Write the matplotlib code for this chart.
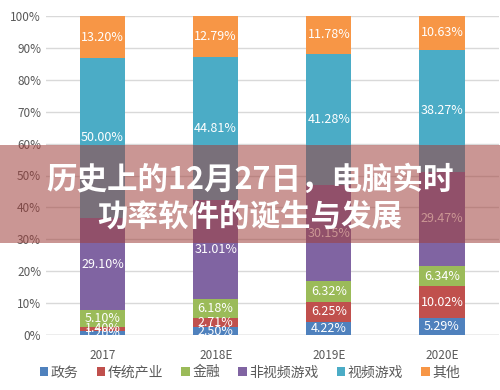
# Stacked share chart of market segments by year, with a title banner on top

import matplotlib.pyplot as plt
from matplotlib.patches import Rectangle

plt.rcParams['font.family'] = ['Noto Sans CJK SC', 'DejaVu Sans']

years = ['2017', '2018E', '2019E', '2020E']
segments = ['政务', '传统产业', '金融', '非视频游戏', '视频游戏', '其他']
colors = ['#4f81bd', '#c0504d', '#9bbb59', '#8064a2', '#4bacc6', '#f79646']

gov = [1.20, 2.50, 4.22, 5.29]
industry = [1.40, 2.71, 6.25, 10.02]
finance = [5.10, 6.18, 6.32, 6.34]
non_video = [29.10, 31.01, 30.15, 29.47]
video = [50.00, 44.81, 41.28, 38.27]
other = [13.20, 12.79, 11.78, 10.63]
series = [gov, industry, finance, non_video, video, other]

fig = plt.figure(figsize=(5, 3.9), dpi=100)
ax = fig.add_axes([0.092, 0.141, 0.905, 0.818])

x = range(len(years))
bottom = [0.0] * len(years)
for name, vals, c in zip(segments, series, colors):
    ax.bar(x, vals, width=0.4, bottom=bottom, color=c, label=name, zorder=2)
    for i, v in enumerate(vals):
        ax.text(i, bottom[i] + v / 2, f'{v:.2f}%', ha='center', va='center',
                color='white', fontsize=9, zorder=3)
    bottom = [b + v for b, v in zip(bottom, vals)]

ax.set_xlim(-0.5, 3.5)
ax.set_ylim(0, 100)
ax.set_yticks(range(0, 101, 10))
ax.set_yticklabels([f'{t}%' for t in range(0, 101, 10)])
ax.set_xticks(list(x))
ax.set_xticklabels(years)
ax.tick_params(colors='#595959', labelsize=8.5, length=0)
ax.tick_params(axis='x', pad=10)
ax.grid(axis='y', color='#d9d9d9', linewidth=1, zorder=0)
for s in ax.spines.values():
    s.set_visible(False)
ax.axhline(0, color='#bfbfbf', linewidth=1, zorder=1)

fig.legend(loc='lower center', bbox_to_anchor=(0.5, -0.005), ncol=6, frameon=False,
           fontsize=10, handlelength=0.6, handleheight=0.6, handletextpad=0.2,
           columnspacing=1.3, labelcolor='#595959')

# translucent title banner
fig.patches.append(Rectangle((0, 1 - 243 / 390), 1, 98 / 390, transform=fig.transFigure,
                             facecolor='#a0403c', alpha=0.55, edgecolor='none', zorder=5))
fig.text(0.5, 1 - 180 / 390, '历史上的12月27日，电脑实时', ha='center', va='center',
         color='white', fontsize=22, fontweight='bold', zorder=6)
fig.text(0.5, 1 - 217 / 390, '功率软件的诞生与发展', ha='center', va='center',
         color='white', fontsize=22, fontweight='bold', zorder=6)

fig.savefig('out.png', dpi=100)
